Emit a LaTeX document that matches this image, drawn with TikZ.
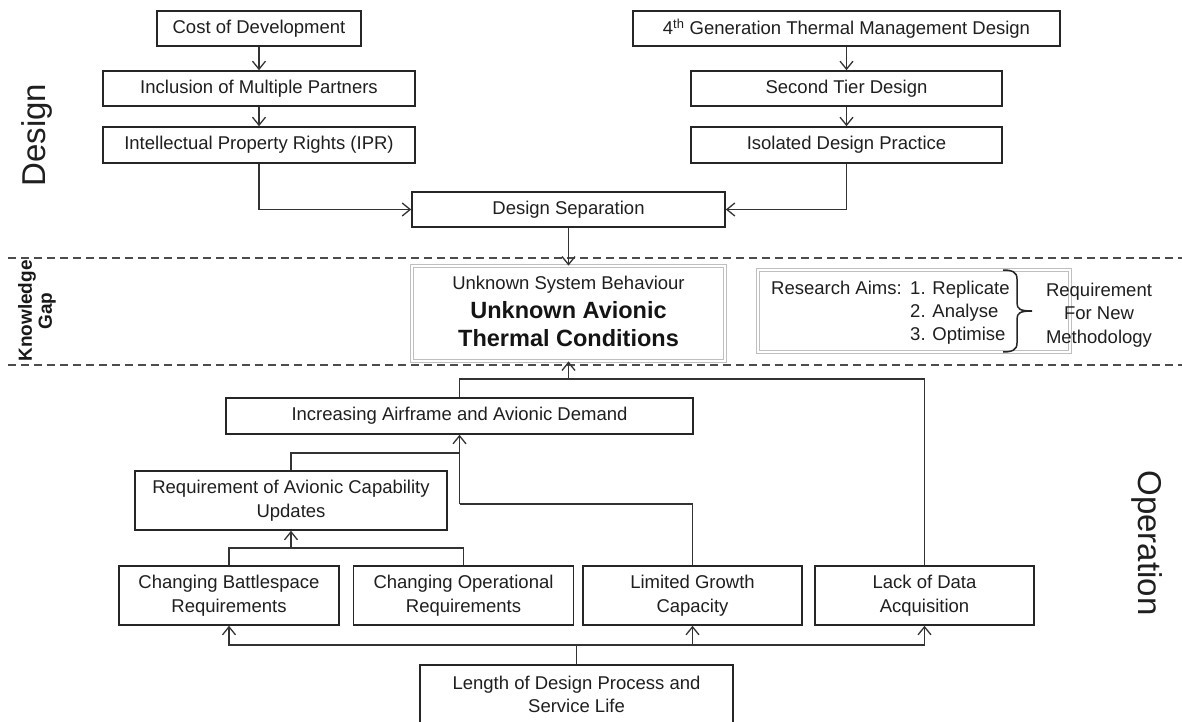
\documentclass[tikz,border=0pt]{standalone}
\usepackage{fontspec}
\setmainfont{Liberation Sans}
\usetikzlibrary{arrows.meta}
\begin{document}
\begin{tikzpicture}[x=1pt,y=-1pt,
  box/.style={draw=black!85, line width=1.6pt, fill=white, text=black!88, align=center,
    inner sep=0pt, font=\fontsize{18.5}{23.5}\selectfont},
  dbox/.style={draw=gray!50, double=white, double distance=1.3pt, line width=0.9pt,
    fill=white, inner sep=0pt},
  conn/.style={draw=black!80, line width=1.3pt},
  arr/.style={conn, -{Straight Barb[length=8pt,width=13pt,line width=1.3pt]}},
  txt/.style={text=black!88, inner sep=0pt, font=\fontsize{18.5}{23.5}\selectfont},
  bold/.style={text=black!92, inner sep=0pt, font=\bfseries\fontsize{23.5}{28}\selectfont},
  band/.style={draw=black!70, line width=1.3pt, dash pattern=on 8pt off 5pt},
  side/.style={text=black!88, inner sep=0pt, font=\fontsize{33}{38}\selectfont}
]
\clip (0,0) rectangle (1182,722);
\fill[white] (0,0) rectangle (1182,722);

% band separators
\draw[band] (8,258) -- (1182,258);
\draw[band] (8,365) -- (1182,365);

% section labels
\node[side, rotate=90] (lbldesign) at (37,135) {Design};
\node[side, rotate=-90] (lbloper) at (1147,543) {Operation};
\node[rotate=90, align=center, text=black!90, inner sep=0pt,
  font=\bfseries\fontsize{19}{20}\selectfont] (lblgap) at (37,311) {Knowledge\\Gap};

% design chain, left
\node[box, minimum width=204pt, minimum height=35pt] (cost) at (259,28.5) {Cost of Development};
\node[box, minimum width=312pt, minimum height=35pt] (incl) at (259,88.5) {Inclusion of Multiple Partners};
\node[box, minimum width=312pt, minimum height=36pt] (ipr) at (259,145) {Intellectual Property Rights (IPR)};

% design chain, right
\node[box, minimum width=427pt, minimum height=35pt] (gen) at (846.5,28.5) {4\textsuperscript{th} Generation Thermal Management Design};
\node[box, minimum width=311pt, minimum height=35pt] (tier) at (846.5,88.5) {Second Tier Design};
\node[box, minimum width=311pt, minimum height=36pt] (iso) at (846.5,145) {Isolated Design Practice};

\node[box, minimum width=313pt, minimum height=35pt] (sep) at (568.5,209.5) {Design Separation};

% knowledge gap
\node[dbox, minimum width=313pt, minimum height=95pt] (unk) at (568.5,313.5) {};
\node[txt, anchor=base] (unka) at (568.5,289.5) {Unknown System Behaviour};
\node[bold, anchor=base] (unkb) at (568.5,318.5) {Unknown Avionic};
\node[bold, anchor=base] (unkc) at (568.5,346.5) {Thermal Conditions};

\node[dbox, minimum width=312pt, minimum height=82pt] (aims) at (914,311) {};
\node[txt, anchor=base west] (aimslbl) at (771,294.5) {Research Aims:};
\node[txt, anchor=base west] (aimsa) at (910,294.5) {1. Replicate};
\node[txt, anchor=base west] (aimsb) at (910,317.5) {2. Analyse};
\node[txt, anchor=base west] (aimsc) at (910,340.5) {3. Optimise};
\draw[draw=black!85, line width=1.5pt]
  (1003,270) .. controls (1012,270) and (1017,272) .. (1017,279) -- (1017,303)
  .. controls (1017,309) and (1020,311) .. (1032,311)
  .. controls (1020,311) and (1017,313) .. (1017,319) -- (1017,343)
  .. controls (1017,350) and (1012,352) .. (1003,352);
\node[txt, anchor=base] (reqa) at (1099,296.5) {Requirement};
\node[txt, anchor=base] (reqb) at (1099,319.5) {For New};
\node[txt, anchor=base] (reqc) at (1099,343) {Methodology};

% operation
\node[box, minimum width=467pt, minimum height=36pt] (incr) at (459.5,416) {Increasing Airframe and Avionic Demand};
\node[box, minimum width=312pt, minimum height=59pt] (req) at (291,500.5) {Requirement of Avionic Capability\\Updates};
\node[box, minimum width=220pt, minimum height=59pt] (batt) at (229,595.5) {Changing Battlespace\\Requirements};
\node[box, minimum width=220pt, minimum height=59pt] (oper) at (463.5,595.5) {Changing Operational\\Requirements};
\node[box, minimum width=219pt, minimum height=59pt] (lim) at (692.5,595.5) {Limited Growth\\Capacity};
\node[box, minimum width=219pt, minimum height=59pt] (lack) at (924.5,595.5) {Lack of Data\\Acquisition};
\node[box, minimum width=313pt, minimum height=59pt] (len) at (576.5,694.5) {Length of Design Process and\\Service Life};

% junction points
\coordinate (jtop) at (568.5,379);
\coordinate (jmid) at (459.5,504);
\coordinate (jreq) at (459.5,453);
\coordinate (jchg) at (291,548);
\coordinate (jlen) at (576.5,645);

% design connectors
\draw[arr] (cost) -- (incl);
\draw[arr] (incl) -- (ipr);
\draw[arr] (gen.south -| tier) -- (tier);
\draw[arr] (tier) -- (iso);
\draw[arr] (ipr.south) |- (sep.west);
\draw[arr] (iso.south) |- (sep.east);
\draw[arr] (sep) -- (unk);

% operation connectors
\draw[conn] (incr.north) |- (jtop);
\draw[conn] (lack.north) |- (jtop);
\draw[arr] (jtop) -- (unk.south);
\draw[conn] (lim.north) |- (jmid);
\draw[arr] (jmid) -- (incr.south);
\draw[conn] (req.north) |- (jreq);
\draw[conn] (batt.north) |- (jchg) -| (oper.north);
\draw[arr] (jchg) -- (req.south);
\draw[conn] (len.north) -- (jlen);
\draw[arr] (jlen) -| (batt.south);
\draw[arr] (jlen) -| (lim.south);
\draw[arr] (jlen) -| (lack.south);
\end{tikzpicture}
\end{document}
